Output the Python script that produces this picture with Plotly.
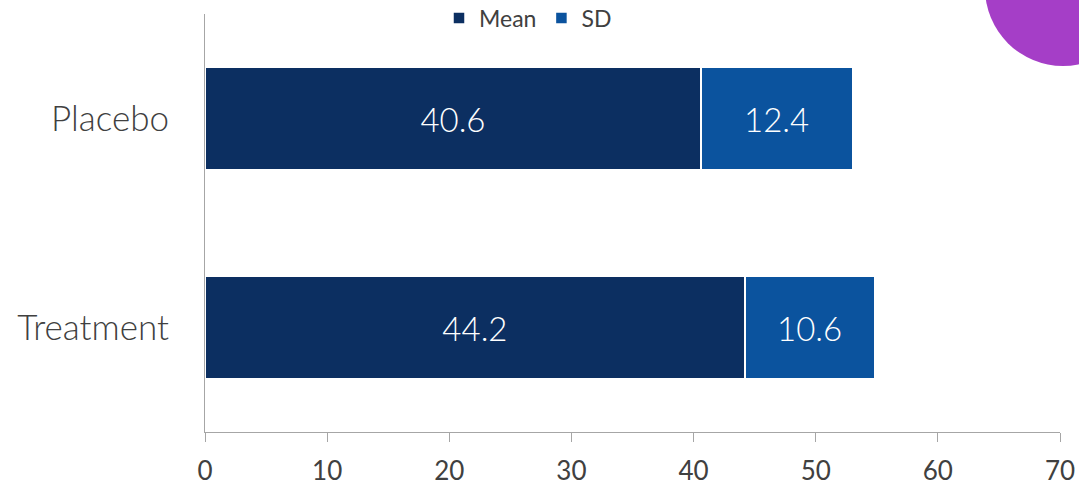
import plotly.graph_objects as go

# Data
groups = ["Placebo", "Treatment"]
mean_vals = [40.6, 44.2]
sd_vals = [12.4, 10.6]
x_ticks = [0, 10, 20, 30, 40, 50, 60, 70]

navy = "#0C2F61"
blue = "#0B539E"
font_family = "Lato, 'Open Sans', sans-serif"

fig = go.Figure()
for name, vals, color in [("Mean", mean_vals, navy), ("SD", sd_vals, blue)]:
    fig.add_trace(go.Bar(
        y=groups, x=vals, name=name, orientation="h",
        marker=dict(color=color, line=dict(color="white", width=1.5)),
        text=[f"{v:.1f}" for v in vals], textposition="inside",
        insidetextanchor="middle", constraintext="none",
        textfont=dict(color="white", size=33, family=font_family, weight=300),
    ))

W, H = 1079, 489
ml, mr, mt, mb = 205, 19, 14, 57
pw, ph = W - ml - mr, H - mt - mb

def px_x(x):
    return (x - ml) / pw

def px_y(y):
    return (H - mb - y) / ph

# decorative purple disc in the top-right corner
fig.add_shape(type="circle", xref="paper", yref="paper",
              x0=px_x(985), x1=px_x(1141), y0=px_y(66), y1=px_y(-90),
              fillcolor="#A53EC7", line=dict(width=0), layer="above")

fig.update_layout(
    width=W, height=H,
    margin=dict(l=ml, r=mr, t=mt, b=mb, autoexpand=False),
    barmode="stack", bargap=0.51,
    plot_bgcolor="white", paper_bgcolor="white",
    font=dict(family=font_family, color="#404040"),
    showlegend=True,
    legend=dict(orientation="h", x=px_x(528), xanchor="center",
                y=px_y(18), yanchor="middle",
                font=dict(size=23, color="#404040"),
                itemwidth=30, traceorder="normal"),
    xaxis=dict(range=[0, 70], tickvals=x_ticks, showgrid=False,
               zeroline=False, showline=True, linecolor="#A6A6A6",
               linewidth=1, ticks="outside", ticklen=9, tickcolor="#A6A6A6",
               tickfont=dict(size=26, color="#404040"),
               ticklabelstandoff=7),
    yaxis=dict(categoryorder="array", categoryarray=groups[::-1],
               showgrid=False, showline=True, linecolor="#A6A6A6",
               linewidth=1, ticks="", zeroline=False,
               tickfont=dict(size=35, color="#404040", weight=300),
               ticklabelstandoff=28),
)

fig.write_html("out.html")
